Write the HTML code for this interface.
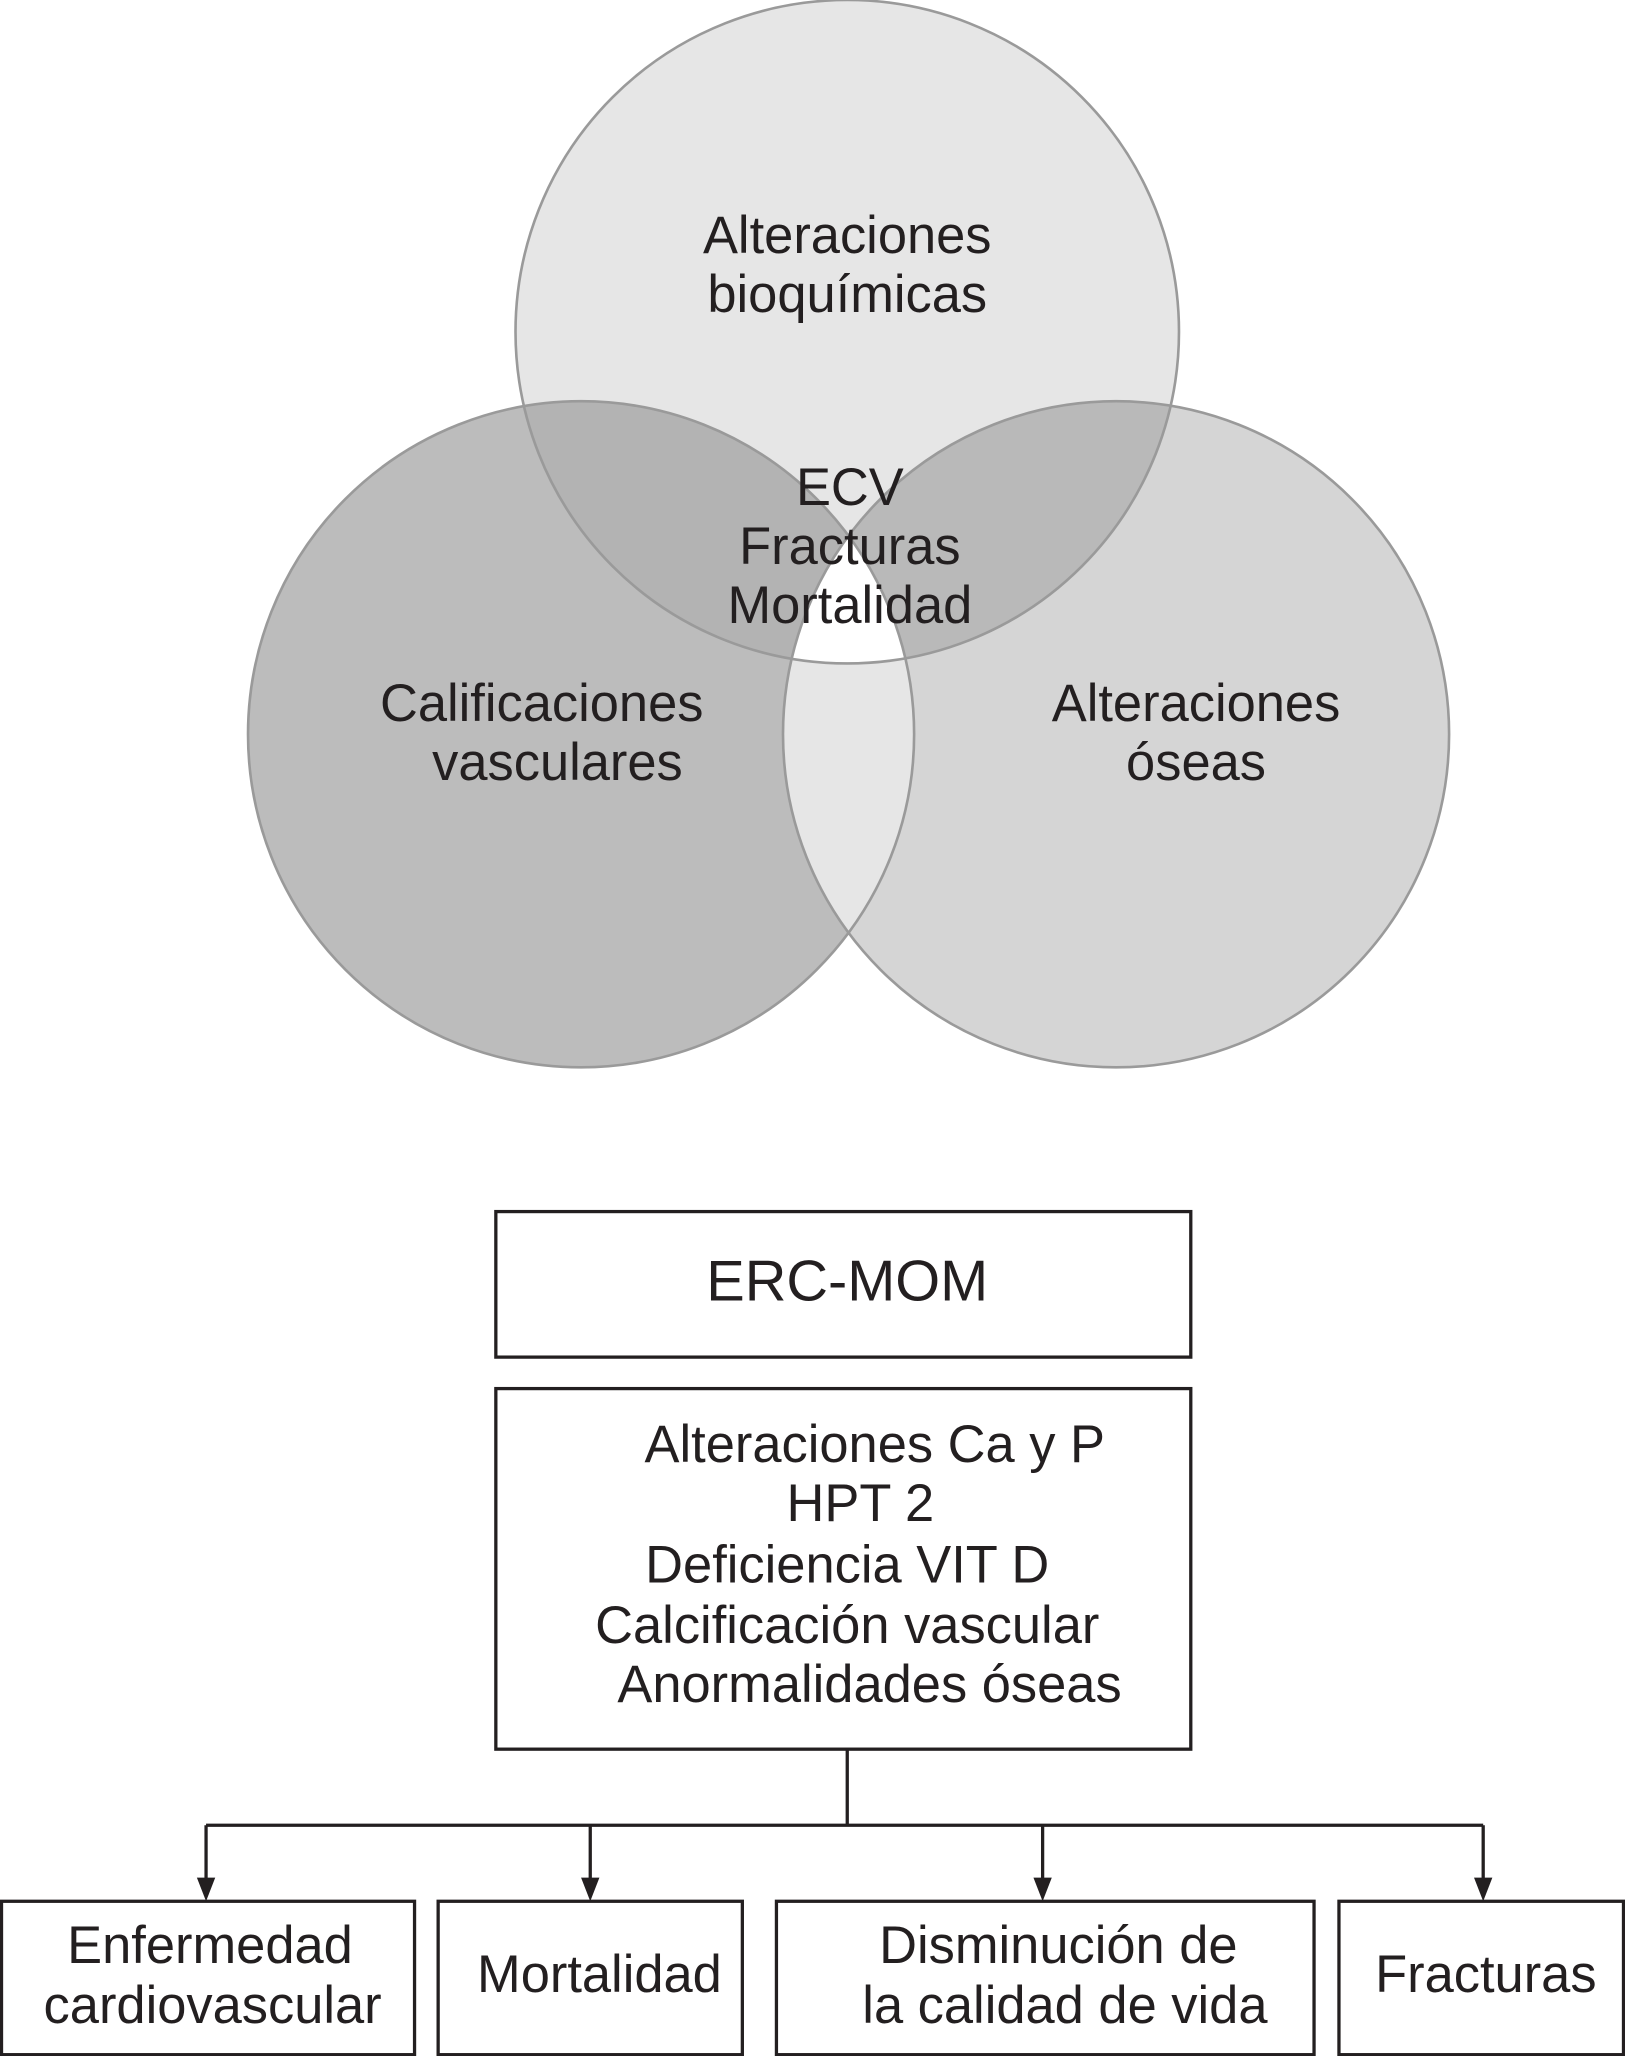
<!DOCTYPE html>
<html><head><meta charset="utf-8"><style>
html,body{margin:0;padding:0;background:#fff}
svg{display:block}
text{font-family:"Liberation Sans",sans-serif;fill:#231f20;text-anchor:middle}
</style></head><body>
<svg width="1625" height="2056" viewBox="0 0 1239 1568" xmlns="http://www.w3.org/2000/svg">
<defs>
<clipPath id="cT"><circle cx="646" cy="253" r="253"/></clipPath>
<clipPath id="cL"><circle cx="443" cy="560" r="254"/></clipPath>
<clipPath id="cR"><circle cx="851" cy="560" r="254"/></clipPath>
</defs>
<circle cx="646" cy="253" r="253" fill="#e6e6e6"/>
<circle cx="443" cy="560" r="254" fill="#bcbcbc"/>
<circle cx="851" cy="560" r="254" fill="#d5d5d5"/>
<g clip-path="url(#cT)"><circle cx="443" cy="560" r="254" fill="#b3b3b3"/><circle cx="851" cy="560" r="254" fill="#b9b9b9"/></g>
<g clip-path="url(#cL)"><circle cx="851" cy="560" r="254" fill="#e6e6e6"/></g>
<g clip-path="url(#cL)"><g clip-path="url(#cR)"><circle cx="646" cy="253" r="253" fill="#ffffff"/></g></g>
<g fill="none" stroke="#9a9a9a" stroke-width="2">
<circle cx="646" cy="253" r="253"/><circle cx="443" cy="560" r="254"/><circle cx="851" cy="560" r="254"/>
</g>
<g font-size="40">
<text x="646" y="193">Alteraciones</text><text x="646" y="238">bioquímicas</text>
<text x="648" y="385">ECV</text><text x="648" y="430">Fracturas</text><text x="648" y="475">Mortalidad</text>
<text x="413" y="550">Calificaciones</text><text x="425" y="595">vasculares</text>
<text x="912" y="550">Alteraciones</text><text x="912" y="595">óseas</text>
</g>
<g fill="#fff" stroke="#231f20" stroke-width="2.5">
<rect x="378" y="924" width="530" height="111"/>
<rect x="378" y="1059" width="530" height="275"/>
<rect x="1" y="1450" width="315" height="117"/>
<rect x="334" y="1450" width="232" height="117"/>
<rect x="592" y="1450" width="410" height="117"/>
<rect x="1021" y="1450" width="217" height="117"/>
</g>
<g stroke="#231f20" stroke-width="2.5" fill="none">
<line x1="646" y1="1334" x2="646" y2="1392"/>
<line x1="157" y1="1392" x2="1131" y2="1392"/>
<line x1="157" y1="1392" x2="157" y2="1436"/>
<line x1="450" y1="1392" x2="450" y2="1436"/>
<line x1="795" y1="1392" x2="795" y2="1436"/>
<line x1="1131" y1="1392" x2="1131" y2="1436"/>
</g>
<g fill="#231f20">
<polygon points="150,1432 164,1432 157,1450"/>
<polygon points="443,1432 457,1432 450,1450"/>
<polygon points="788,1432 802,1432 795,1450"/>
<polygon points="1124,1432 1138,1432 1131,1450"/>
</g>
<g font-size="40">
<text x="646" y="992" font-size="44">ERC-MOM</text>
<text x="667" y="1115">Alteraciones Ca y P</text>
<text x="656" y="1160">HPT 2</text>
<text x="646" y="1207">Deficiencia VIT D</text>
<text x="646" y="1253">Calcificación vascular</text>
<text x="663" y="1298">Anormalidades óseas</text>
<text x="160" y="1497">Enfermedad</text><text x="162" y="1543">cardiovascular</text>
<text x="457" y="1519">Mortalidad</text>
<text x="807" y="1497">Disminución de</text><text x="812" y="1543">la calidad de vida</text>
<text x="1133" y="1519">Fracturas</text>
</g>
</svg>
</body></html>
